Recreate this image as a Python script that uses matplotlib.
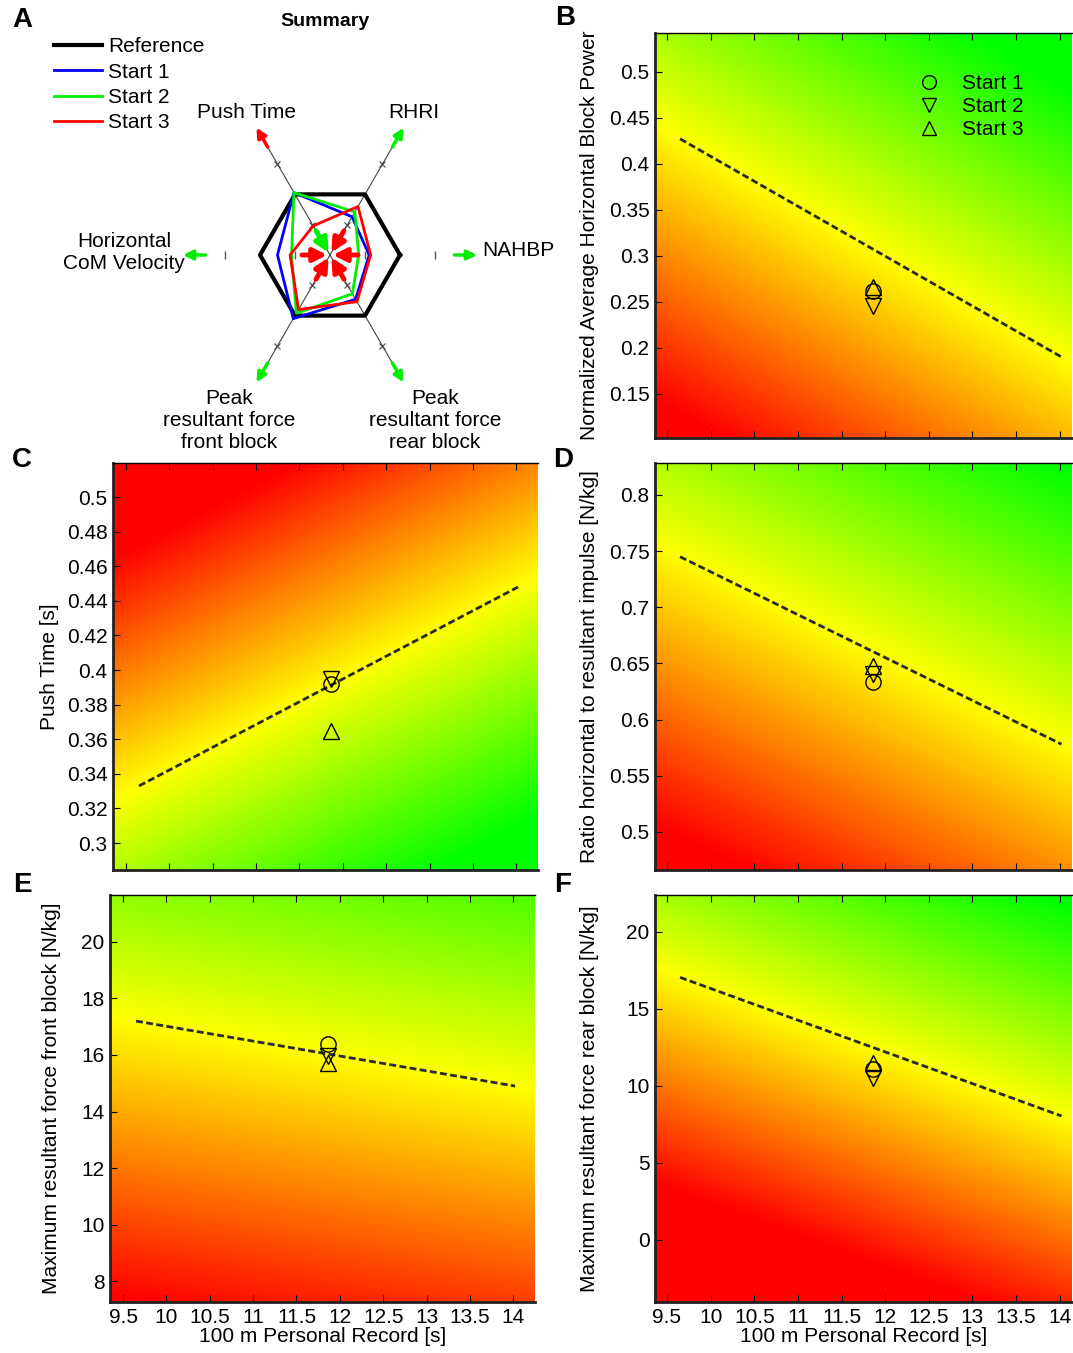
import numpy as np
import matplotlib.pyplot as plt
from matplotlib.colors import LinearSegmentedColormap
from matplotlib.ticker import FormatStrFormatter

plt.rcParams['font.family'] = ['Liberation Sans', 'DejaVu Sans']

# ---- panel A (radar summary) ----
radar_axes = ['NAHBP', 'RHRI', 'Push Time', 'Horizontal\nCoM Velocity',
              'Peak\nresultant force\nfront block', 'Peak\nresultant force\nrear block']
radar_angles = [0, 60, 120, 180, 240, 300]
radar_ref = [1, 1, 1, 1, 1, 1]
radar_start1 = [0.56, 0.63, 1.03, 0.75, 1.05, 0.73]
radar_start2 = [0.41, 0.71, 1.03, 0.55, 0.96, 0.64]
radar_start3 = [0.58, 0.80, 0.48, 0.57, 0.90, 0.77]
radar_arrow_colors = ['#00ee00', '#00ee00', 'red', '#00ee00', '#00ee00', '#00ee00']

# ---- panels B-F ----
pr_starts = [11.86, 11.86, 11.86]  # 100 m PR of the athlete, Start 1..3
start_names = ['Start 1', 'Start 2', 'Start 3']
start_markers = ['o', 'v', '^']
line_x = [9.65, 14.02]

nahbp_vals = [0.262, 0.245, 0.266]
nahbp_line = [0.427, 0.190]
push_vals = [0.392, 0.395, 0.365]
push_line = [0.333, 0.448]
ratio_vals = [0.633, 0.641, 0.648]
ratio_line = [0.745, 0.578]
front_vals = [16.39, 15.95, 15.72]
front_line = [17.2, 14.9]
rear_vals = [11.1, 10.5, 11.5]
rear_line = [17.05, 8.05]

cmap = LinearSegmentedColormap.from_list('ryg', [(1, 0, 0), (1, 1, 0), (0, 1, 0)])

fig = plt.figure(figsize=(10.73, 13.53), dpi=100)
W, H = 1073.0, 1353.0


def px_axes(x0, y0, x1, y1):
    return fig.add_axes([x0 / W, 1 - y1 / H, (x1 - x0) / W, (y1 - y0) / H])


# ---------------- panel A ----------------
axA = px_axes(0, 0, 540, 460)
s = 70.0
axA.set_xlim(-330 / s, 210 / s)
axA.set_ylim(-(460 - 255) / s, 255 / s)
axA.set_aspect('equal')
axA.axis('off')

th = np.deg2rad(radar_angles)
ux, uy = np.cos(th), np.sin(th)

for k in range(6):
    if radar_angles[k] % 180 != 0:
        axA.plot([0, 1.78 * ux[k]], [0, 1.78 * uy[k]], color='#444444', lw=0.8, zorder=1)
        axA.plot([0.5 * ux[k], 1.5 * ux[k]], [0.5 * uy[k], 1.5 * uy[k]], ls='none',
                 marker='x', ms=4, mew=0.8, color='#444444', zorder=1)
    else:
        axA.plot([0.5 * ux[k], 1.5 * ux[k]], [0.5 * uy[k], 1.5 * uy[k]], ls='none',
                 marker='|', ms=6, mew=1, color='#555555', zorder=1)
    axA.annotate('', xy=(2.1 * ux[k], 2.1 * uy[k]), xytext=(1.78 * ux[k], 1.78 * uy[k]),
                 arrowprops=dict(arrowstyle='-|>', color=radar_arrow_colors[k], lw=2.5,
                                 mutation_scale=14, shrinkA=0, shrinkB=0))
    inner = 'red' if radar_arrow_colors[k] != 'red' else '#00ee00'
    axA.annotate('', xy=(0.04 * ux[k], 0.04 * uy[k]), xytext=(0.4 * ux[k], 0.4 * uy[k]),
                 arrowprops=dict(arrowstyle='-|>', color=inner, lw=3.5,
                                 mutation_scale=20, shrinkA=0, shrinkB=0), zorder=4)


def closed(vals):
    v = np.array(vals + vals[:1])
    a = np.concatenate([th, th[:1]])
    return v * np.cos(a), v * np.sin(a)


hx, hy = closed(radar_ref)
axA.plot(hx, hy, color='black', lw=3, label='Reference', zorder=2)
for vals, c, lab in [(radar_start1, '#0000ff', 'Start 1'),
                     (radar_start2, '#00ee00', 'Start 2'),
                     (radar_start3, '#ff0000', 'Start 3')]:
    px, py = closed(vals)
    axA.plot(px, py, color=c, lw=2, label=lab, zorder=3)

lab_pos = {'NAHBP': ((482 - 330) / s, 0.06, 'left'),
           'RHRI': (1.2, 2.04, 'center'),
           'Push Time': (-1.19, 2.04, 'center'),
           'Horizontal\nCoM Velocity': (-2.94, 0.04, 'center'),
           'Peak\nresultant force\nfront block': (-1.44, -2.36, 'center'),
           'Peak\nresultant force\nrear block': (1.5, -2.36, 'center')}
for name in radar_axes:
    x, y, ha = lab_pos[name]
    axA.text(x, y, name, ha=ha, va='center', fontsize=15, linespacing=1.2)

axA.text(-0.07, 3.33, 'Summary', ha='center', va='center', fontsize=14, fontweight='bold')
axA.legend(loc='upper left', bbox_to_anchor=(0.085, 0.937), frameon=False, fontsize=15,
           handlelength=2.3, handletextpad=0.3, labelspacing=0.3, borderaxespad=0)


# ---------------- panels B-F ----------------
def panel(box, xlim, ylim, vals, line_y, rng, ylabel, yticks, label_x, better_low=False,
          xlabels=False, legend=False):
    ax = px_axes(*box)
    slope = (line_y[1] - line_y[0]) / (line_x[1] - line_x[0])
    gx = np.linspace(xlim[0], xlim[1], 300)
    gy = np.linspace(ylim[0], ylim[1], 300)
    X, Y = np.meshgrid(gx, gy)
    V = (Y - (line_y[0] + slope * (X - line_x[0]))) / rng
    if better_low:
        V = -V
    ax.imshow(np.clip(V, -1, 1), extent=[xlim[0], xlim[1], ylim[0], ylim[1]],
              origin='lower', aspect='auto', cmap=cmap, vmin=-1, vmax=1,
              interpolation='bilinear', zorder=0)
    ax.plot(line_x, line_y, color='#2a2a2a', lw=2, ls=(0, (2.5, 1.2)), zorder=2)
    for xv, yv, m, lab in zip(pr_starts, vals, start_markers, start_names):
        ax.plot(xv, yv, ls='none', marker=m, ms=11, mfc='none', mec='black', mew=1,
                label=lab, zorder=3)
    ax.set_xlim(xlim)
    ax.set_ylim(ylim)
    ax.set_xticks([9.5, 10, 10.5, 11, 11.5, 12, 12.5, 13, 13.5, 14])
    ax.set_yticks(yticks)
    ax.yaxis.set_major_formatter(FormatStrFormatter('%g'))
    ax.tick_params(direction='in', top=True, right=False, length=5, labelsize=15, pad=4)
    if xlabels:
        ax.xaxis.set_major_formatter(FormatStrFormatter('%g'))
        ax.set_xlabel('100 m Personal Record [s]', fontsize=15, labelpad=0)
    else:
        ax.set_xticklabels([])
    ax.set_ylabel(ylabel, fontsize=15)
    ax.yaxis.set_label_coords((label_x - box[0]) / (box[2] - box[0]), 0.5)
    for side in ['left', 'bottom']:
        ax.spines[side].set_linewidth(2)
        ax.spines[side].set_color('#222222')
    ax.spines['right'].set_visible(False)
    ax.spines['top'].set_linewidth(1)
    if legend:
        ax.legend(loc='upper right', bbox_to_anchor=(0.93, 0.945), frameon=False, fontsize=15,
                  handletextpad=0.6, labelspacing=0.2, markerscale=0.9)
    return ax


xl_left = (9.35, 14.25)
xl_right = (9.363, 14.14)

panel((655, 33, 1072, 438), xl_right, (0.102, 0.542), nahbp_vals, nahbp_line, 0.3,
      'Normalized Average Horizontal Block Power', np.arange(0.15, 0.51, 0.05), 599,
      legend=True)
panel((113, 463, 538, 870), xl_left, (0.2844, 0.5197), push_vals, push_line, 0.14,
      'Push Time [s]', np.arange(0.30, 0.501, 0.02), 59, better_low=True)
panel((655, 463, 1072, 870), xl_right, (0.466, 0.8285), ratio_vals, ratio_line, 0.25,
      'Ratio horizontal to resultant impulse [N/kg]', np.arange(0.5, 0.81, 0.05), 599)
panel((110, 895, 535, 1302), xl_left, (7.26, 21.66), front_vals, front_line, 10,
      'Maximum resultant force front block [N/kg]', np.arange(8, 21, 2), 61, xlabels=True)
panel((655, 895, 1072, 1302), xl_right, (-4.03, 22.4), rear_vals, rear_line, 14,
      'Maximum resultant force rear block [N/kg]', np.arange(0, 21, 5), 599, xlabels=True)

for letter, (x, y) in zip('ABCDEF', [(22, 20), (565, 18), (22, 460), (563, 460),
                                     (22, 885), (563, 885)]):
    fig.text(x / W, 1 - y / H, letter, fontsize=20, fontweight='bold', ha='center', va='center')

fig.savefig('out.png', dpi=100)
